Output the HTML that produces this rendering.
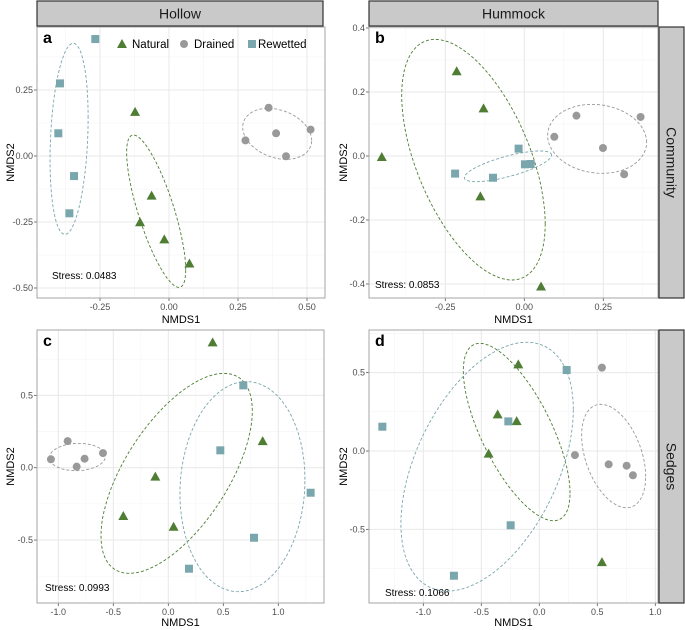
<!DOCTYPE html>
<html><head><meta charset="utf-8">
<style>
body{margin:0;background:#fff;}
svg{display:block;font-family:"Liberation Sans",sans-serif;}
</style></head>
<body>
<svg id="chart" width="685" height="630" viewBox="0 0 685 630"></svg>
<script>
// ---- Data: panel a (Hollow / Community)
const aNaturalX=[-0.123,-0.063,-0.105,-0.017,0.074];
const aNaturalY=[0.167,-0.150,-0.251,-0.316,-0.407];
const aDrainedX=[0.361,0.388,0.277,0.424,0.513];
const aDrainedY=[0.183,0.086,0.059,-0.001,0.100];
const aRewettedX=[-0.267,-0.395,-0.401,-0.344,-0.361];
const aRewettedY=[0.443,0.275,0.086,-0.076,-0.217];
// ---- panel b (Hummock / Community)
const bNaturalX=[-0.214,-0.129,-0.451,-0.139,0.053];
const bNaturalY=[0.265,0.149,-0.003,-0.126,-0.408];
const bDrainedX=[0.165,0.368,0.095,0.249,0.316];
const bDrainedY=[0.126,0.122,0.060,0.025,-0.057];
const bRewettedX=[-0.219,-0.099,-0.018,0.002,0.020];
const bRewettedY=[-0.055,-0.068,0.023,-0.026,-0.025];
// ---- panel c (Hollow / Sedges)
const cNaturalX=[0.403,0.858,-0.118,-0.409,0.048];
const cNaturalY=[0.866,0.184,-0.062,-0.334,-0.408];
const cDrainedX=[-1.067,-0.915,-0.833,-0.761,-0.594];
const cDrainedY=[0.058,0.184,0.007,0.062,0.101];
const cRewettedX=[0.682,0.473,1.294,0.779,0.188];
const cRewettedY=[0.569,0.120,-0.173,-0.484,-0.698];
// ---- panel d (Hummock / Sedges)
const dNaturalX=[-0.181,-0.359,-0.195,-0.437,0.540];
const dNaturalY=[0.553,0.234,0.191,-0.017,-0.709];
const dDrainedX=[0.540,0.307,0.598,0.753,0.807];
const dDrainedY=[0.532,-0.026,-0.085,-0.094,-0.155];
const dRewettedX=[-1.353,0.236,-0.267,-0.247,-0.736];
const dRewettedY=[0.155,0.517,0.189,-0.474,-0.796];
// ellipses (natural, drained, rewetted): [centerX, centerY, halfWidthX, halfHeightY, correlation]
const aEllipses=[[-0.0465,-0.209,0.107,0.2885,-0.77],[0.392,0.084,0.125,0.0966,-0.26],[-0.362,0.065,0.069,0.362,0.22]];
const bEllipses=[[-0.161,-0.0115,0.227,0.376,-0.535],[0.2305,0.0536,0.1566,0.1078,-0.1],[-0.0517,-0.0323,0.138,0.048,0.73]];
const cEllipses=[[0.0758,-0.039,0.688,0.691,0.625],[-0.827,0.0737,0.2545,0.0945,0.05],[0.674,-0.131,0.568,0.726,0.067]];
const dEllipses=[[-0.195,0.121,0.46,0.566,-0.69],[0.641,-0.032,0.276,0.33,-0.4],[-0.45,-0.1,0.743,0.794,0.46]];
// ticks
const aXTicks=[-0.25,0,0.25,0.5], aXLabels=["-0.25","0.00","0.25","0.50"];
const aYTicks=[0.25,0,-0.25,-0.5], aYLabels=["0.25","0.00","-0.25","-0.50"];
const bXTicks=[-0.25,0,0.25], bXLabels=["-0.25","0.00","0.25"];
const bYTicks=[0.4,0.2,0,-0.2,-0.4], bYLabels=["0.4","0.2","0.0","-0.2","-0.4"];
const cXTicks=[-1,-0.5,0,0.5,1], cXLabels=["-1.0","-0.5","0.0","0.5","1.0"];
const cYTicks=[0.5,0,-0.5], cYLabels=["0.5","0.0","-0.5"];
const dXTicks=[-1,-0.5,0,0.5,1], dXLabels=["-1.0","-0.5","0.0","0.5","1.0"];
const dYTicks=[0.5,0,-0.5], dYLabels=["0.5","0.0","-0.5"];
const stressValues=["Stress: 0.0483","Stress: 0.0853","Stress: 0.0993","Stress: 0.1066"];

const NS="http://www.w3.org/2000/svg";
const svg=document.getElementById('chart');
const COL={natural:"#4e7d33",drained:"#999999",rewetted:"#7aa6ad"};
function mk(tag,attrs,parent){const e=document.createElementNS(NS,tag);for(const k in attrs)e.setAttribute(k,attrs[k]);(parent||svg).appendChild(e);return e;}

const panels=[
 {id:"a",x0:37,x1:325,y0:27,y1:298,ox:169,sx:276,oy:156,sy:264,xt:aXTicks,xl:aXLabels,yt:aYTicks,yl:aYLabels,
  nat:[aNaturalX,aNaturalY],dr:[aDrainedX,aDrainedY],rw:[aRewettedX,aRewettedY],el:aEllipses,stress:[52,279],ytx:10,xty:323},
 {id:"b",x0:369,x1:658,y0:27,y1:298,ox:524.3,sx:316,oy:156,sy:320,xt:bXTicks,xl:bXLabels,yt:bYTicks,yl:bYLabels,
  nat:[bNaturalX,bNaturalY],dr:[bDrainedX,bDrainedY],rw:[bRewettedX,bRewettedY],el:bEllipses,stress:[375,288],ytx:343,xty:323},
 {id:"c",x0:37,x1:324,y0:330,y1:603,ox:168.3,sx:110,oy:467.7,sy:144.7,xt:cXTicks,xl:cXLabels,yt:cYTicks,yl:cYLabels,
  nat:[cNaturalX,cNaturalY],dr:[cDrainedX,cDrainedY],rw:[cRewettedX,cRewettedY],el:cEllipses,stress:[45,591],ytx:10,xty:626},
 {id:"d",x0:369,x1:658,y0:330,y1:603,ox:539.3,sx:116,oy:451,sy:156.7,xt:dXTicks,xl:dXLabels,yt:dYTicks,yl:dYLabels,
  nat:[dNaturalX,dNaturalY],dr:[dDrainedX,dDrainedY],rw:[dRewettedX,dRewettedY],el:dEllipses,stress:[385,596],ytx:343,xty:626}
];

panels.forEach((p,pi)=>{
 const X=v=>p.ox+v*p.sx, Y=v=>p.oy-v*p.sy;
 const g=mk('g',{});
 
 
 mk('rect',{x:p.x0,y:p.y0,width:p.x1-p.x0,height:p.y1-p.y0,fill:"#fff"},g);
 const step=p.xt[1]-p.xt[0];
 for(let i=-1;i<=p.xt.length;i++){const v=p.xt[0]+(i+0.5)*step;const px=X(v);if(px>p.x0&&px<p.x1)mk('line',{x1:px,x2:px,y1:p.y0,y2:p.y1,stroke:"#f4f4f4","stroke-width":0.6},g);}
 const ystep=p.yt[0]-p.yt[1];
 for(let i=-1;i<=p.yt.length;i++){const v=p.yt[0]-(i+0.5)*ystep;const py=Y(v);if(py>p.y0&&py<p.y1)mk('line',{x1:p.x0,x2:p.x1,y1:py,y2:py,stroke:"#f4f4f4","stroke-width":0.6},g);}
 p.xt.forEach((v,i)=>{const px=X(v);
  const gl=mk('line',{x1:px,x2:px,y1:p.y0,y2:p.y1,stroke:"#e8e8e8","stroke-width":1},g);
  
  mk('line',{x1:px,x2:px,y1:p.y1,y2:p.y1+3,stroke:"#555","stroke-width":0.8},g);
  const t=mk('text',{x:px,y:p.y1+12,"text-anchor":"middle","font-size":9,fill:"#4d4d4d"},g);t.textContent=p.xl[i];
  });
 p.yt.forEach((v,i)=>{const py=Y(v);
  const gl=mk('line',{x1:p.x0,x2:p.x1,y1:py,y2:py,stroke:"#e8e8e8","stroke-width":1},g);
  
  mk('line',{x1:p.x0-3,x2:p.x0,y1:py,y2:py,stroke:"#555","stroke-width":0.8},g);
  const t=mk('text',{x:p.x0-4,y:py+3,"text-anchor":"end","font-size":9,fill:"#4d4d4d"},g);t.textContent=p.yl[i];
  });
 const ecol=[COL.natural,COL.drained,COL.rewetted];const enames=['natural','drained','rewetted'];
 p.el.forEach((e,k)=>{let d="";const cx=e[0],cy=e[1],w=e[2],h=e[3],r=e[4];
  for(let s=0;s<=120;s++){const t=s/120*2*Math.PI;
   const vx=cx+w*Math.cos(t), vy=cy+h*(r*Math.cos(t)+Math.sqrt(1-r*r)*Math.sin(t));
   d+=(s?"L":"M")+X(vx).toFixed(1)+","+Y(vy).toFixed(1);}
  const pa=mk('path',{d:d+"Z",fill:"none",stroke:ecol[k],"stroke-width":0.9,"stroke-dasharray":"3,2"},g);
  });
 p.nat[0].forEach((v,i)=>{const cx=X(v),cy=Y(p.nat[1][i]);
  const m=mk('polygon',{points:`${cx},${cy-5} ${cx-5},${cy+4} ${cx+5},${cy+4}`,fill:COL.natural},g);
  });
 p.dr[0].forEach((v,i)=>{const m=mk('circle',{cx:X(v),cy:Y(p.dr[1][i]),r:4,fill:COL.drained},g);
  });
 p.rw[0].forEach((v,i)=>{const m=mk('rect',{x:X(v)-4,y:Y(p.rw[1][i])-4,width:8,height:8,fill:COL.rewetted},g);
  });
 mk('rect',{x:p.x0,y:p.y0,width:p.x1-p.x0,height:p.y1-p.y0,fill:"none",stroke:"#a6a6a6","stroke-width":1},g);
 const lt=mk('text',{x:p.x0+6,y:p.y0+16,"font-size":16,"font-weight":"bold",fill:"#000"},g);lt.textContent=p.id;
 
 const st=mk('text',{x:p.stress[0],y:p.stress[1],"font-size":10,fill:"#000"},g);st.textContent=stressValues[pi];
 
 const xt=mk('text',{x:(p.x0+p.x1)/2,y:p.xty,"text-anchor":"middle","font-size":11,fill:"#000"},g);xt.textContent="NMDS1";
 
 const cy=(p.y0+p.y1)/2;
 const yt=mk('text',{x:p.ytx,y:cy,"text-anchor":"middle","font-size":11,fill:"#000",transform:`rotate(-90 ${p.ytx} ${cy}) translate(0 4)`},g);yt.textContent="NMDS2";
 
});
function strip(x,y,w,h,label,rot,name){const g=mk('g',{});
 
 mk('rect',{x:x,y:y,width:w,height:h,fill:"#c9c9c9",stroke:"#333","stroke-width":1.2},g);
 const cx=x+w/2,cy=y+h/2;
 const t=mk('text',{x:cx,y:cy+5,"text-anchor":"middle","font-size":14,fill:"#1a1a1a"},g);
 if(rot)t.setAttribute('transform',`rotate(90 ${cx} ${cy})`);
 t.textContent=label;}
strip(37,1,286,25,"Hollow",false,"strip-hollow");
strip(369,1,289,25,"Hummock",false,"strip-hummock");
strip(659,27,25,271,"Community",true,"strip-community");
strip(659,330,25,273,"Sedges",true,"strip-sedges");
const lg=mk('g',{});


mk('polygon',{points:"122,39 117,48 127,48",fill:COL.natural},lg);
let t=mk('text',{x:132,y:48,"font-size":11.5,fill:"#000"},lg);t.textContent="Natural";

mk('circle',{cx:184,cy:44,r:4,fill:COL.drained},lg);
t=mk('text',{x:194,y:48,"font-size":11.5,fill:"#000"},lg);t.textContent="Drained";

mk('rect',{x:248,y:40,width:8,height:8,fill:COL.rewetted},lg);
t=mk('text',{x:258,y:48,"font-size":11.5,fill:"#000"},lg);t.textContent="Rewetted";

</script>
</body></html>
